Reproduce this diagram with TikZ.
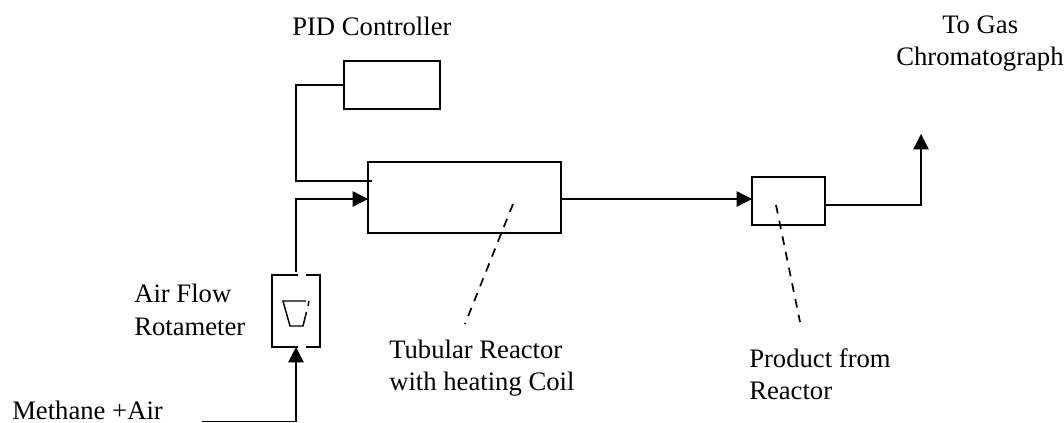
\documentclass[tikz,border=0pt]{standalone}
\usepackage{fontspec}
\setmainfont{Liberation Serif}
\usetikzlibrary{arrows.meta}
\tikzset{
  x=0.75pt,y=-0.75pt,
  unit/.style={draw,line width=1.25pt,inner sep=0pt,outer sep=0pt,minimum width=#1*0.75pt,anchor=north west},
  flow/.style={draw,line width=1.05pt},
  flowarrow/.style={flow,-{Triangle[length=11.5pt,width=11.5pt]}},
  leader/.style={draw,line width=1.3pt,dash pattern=on 6.5pt off 5.5pt},
  lbl/.style={font=\fontsize{20pt}{23.5pt}\selectfont,inner sep=0pt,anchor=base west},
  gap/.style={draw=white,line width=2pt},
}
\begin{document}
\begin{tikzpicture}
\useasboundingbox (0,0) rectangle (1064,423);
\node[unit=96,minimum height=48*0.75pt] (pid) at (344,61) {};
\node[unit=193,minimum height=71*0.75pt] (reactor) at (368,162) {};
\node[unit=73,minimum height=48*0.75pt] (product) at (752,177) {};
\node[unit=48,minimum height=72*0.75pt] (rota) at (272,275) {};
% gaps in the rotameter outline
\draw[gap] (297.5,275) -- (306,275);
\draw[gap] (297.5,347) -- (306,347);
% float
\draw[line width=1.1pt] (306,301) -- (283,301) -- (290,326) -- (303,326) -- (306.5,312);
\draw[line width=1.1pt] (309,301) -- (308,306);
% connectors
\coordinate (c1) at (296,85);
\coordinate (c2) at (296,181);
\coordinate (c3) at (372,181);
\draw[flow] (pid.west |- c1) -- (c1) -- (c2) -- (c3);
\coordinate (rtop) at (296,272);
\coordinate (c4) at (296,199);
\draw[flowarrow] (rtop) -- (c4) -- (c4 -| reactor.west);
\coordinate (m1) at (202,421.5);
\coordinate (m2) at (296,421.5);
\draw[flowarrow] (m1) -- (m2) -- (m2 |- rota.south);
\coordinate (r1) at (561,199);
\draw[flowarrow] (r1) -- (r1 -| product.west);
\coordinate (p1) at (825,205);
\coordinate (p2) at (921,205);
\coordinate (p3) at (921,134);
\draw[flowarrow] (p1) -- (p2) -- (p3);
% leaders
\coordinate (d1) at (513,204);
\coordinate (d2) at (465,324);
\coordinate (d3) at (776,205);
\coordinate (d4) at (800,322);
\draw[leader] (d1) -- (d2);
\draw[leader] (d3) -- (d4);
% labels
\node[lbl] (tpid) at (292,36) {PID Controller};
\node[lbl] (tgas1) at (942,34) {To Gas};
\node[lbl] (tgas2) at (896,66) {Chromatograph};
\node[lbl] (tair1) at (134,303) {Air Flow};
\node[lbl] (tair2) at (134,336) {Rotameter};
\node[lbl] (ttub1) at (389,359) {Tubular Reactor};
\node[lbl] (ttub2) at (389,391) {with heating Coil};
\node[lbl] (tprod1) at (749,368) {Product from};
\node[lbl] (tprod2) at (749,400) {Reactor};
\node[lbl] (tmeth) at (12,420) {Methane +Air};
\end{tikzpicture}
\end{document}
